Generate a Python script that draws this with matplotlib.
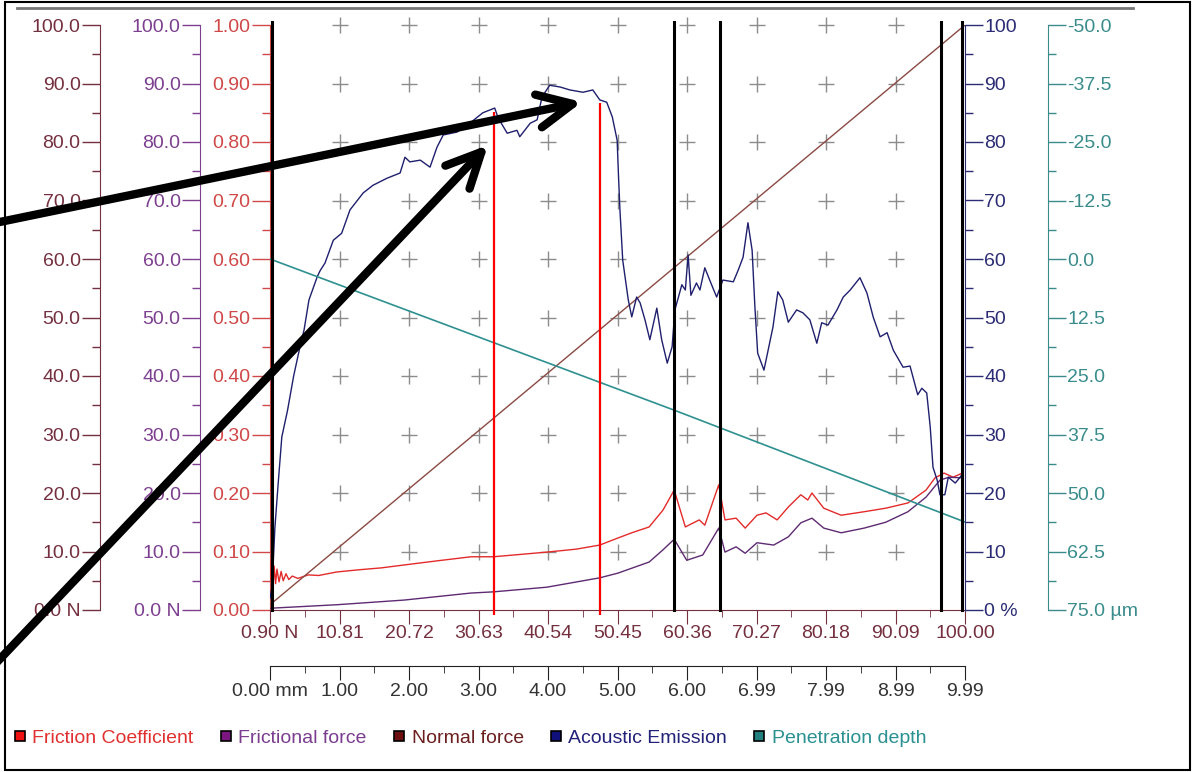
import matplotlib.pyplot as plt
import numpy as np
from matplotlib.lines import Line2D
from matplotlib.patches import FancyArrowPatch, Rectangle
from matplotlib.ticker import FixedLocator, FixedFormatter

plt.rcParams['font.family'] = ['Liberation Sans', 'DejaVu Sans']

# ---- data (x = scratch distance in mm) ----
force_labels = ['0.90 N', '10.81', '20.72', '30.63', '40.54', '50.45',
                '60.36', '70.27', '80.18', '90.09', '100.00']
dist_labels = ['0.00 mm', '1.00', '2.00', '3.00', '4.00', '5.00',
               '6.00', '6.99', '7.99', '8.99', '9.99']
dist_max = 9.99

ae_x = [0.00, 0.03, 0.07, 0.12, 0.17, 0.25, 0.34, 0.42, 0.49, 0.56, 0.68, 0.72,
        0.79, 0.91, 1.03, 1.15, 1.34, 1.48, 1.68, 1.87, 1.94, 2.01, 2.16, 2.30,
        2.40, 2.49, 2.69, 2.87, 3.06, 3.23, 3.28, 3.41, 3.55, 3.59, 3.74, 3.84,
        3.91, 4.02, 4.17, 4.31, 4.50, 4.64, 4.74, 4.84, 4.92, 4.99, 5.01, 5.03,
        5.07, 5.15, 5.20, 5.27, 5.32, 5.39, 5.46, 5.56, 5.63, 5.71, 5.78, 5.82,
        5.92, 5.97, 6.01, 6.05, 6.13, 6.18, 6.25, 6.32, 6.42, 6.51, 6.66, 6.73,
        6.80, 6.87, 6.93, 6.97, 7.01, 7.10, 7.16, 7.23, 7.30, 7.37, 7.45, 7.57,
        7.66, 7.76, 7.86, 7.93, 8.02, 8.15, 8.24, 8.34, 8.48, 8.58, 8.67, 8.77,
        8.87, 8.96, 9.10, 9.20, 9.31, 9.37, 9.44, 9.49, 9.53, 9.59, 9.63, 9.70,
        9.75, 9.85, 9.92, 9.96]
ae_y = [2.0, 4.0, 14.0, 22.0, 29.6, 34.0, 40.0, 44.4, 47.9, 53.0, 57.0, 58.0,
        59.3, 63.2, 64.4, 68.4, 71.3, 72.6, 73.8, 74.7, 77.4, 76.6, 76.9, 75.7,
        79.1, 81.2, 81.7, 83.2, 85.0, 85.8, 84.1, 81.5, 82.0, 80.9, 83.2, 83.8,
        87.7, 89.7, 89.4, 88.9, 88.5, 88.9, 87.2, 86.8, 84.3, 80.3, 74.0, 68.4,
        59.8, 53.0, 50.1, 53.5, 52.5, 49.6, 46.2, 51.6, 46.2, 42.2, 45.0, 51.3,
        55.6, 54.7, 60.7, 53.8, 55.9, 54.7, 58.5, 56.4, 53.5, 56.4, 56.1, 58.1,
        60.3, 66.2, 61.5, 51.8, 43.9, 41.0, 44.4, 48.4, 54.4, 53.0, 49.2, 51.3,
        50.8, 49.6, 45.6, 49.1, 48.7, 51.3, 53.5, 54.7, 56.8, 54.2, 50.1, 46.7,
        47.4, 44.4, 41.5, 41.7, 36.8, 37.9, 37.1, 31.3, 24.4, 22.2, 19.7, 19.7,
        22.7, 21.7, 22.7, 23.4]

fc_x = [0.00, 0.02, 0.04, 0.06, 0.08, 0.10, 0.13, 0.16, 0.19, 0.23, 0.27, 0.32,
        0.40, 0.55, 0.70, 0.96, 1.30, 1.60, 1.93, 2.40, 2.89, 3.21, 3.60, 3.98,
        4.40, 4.74, 5.00, 5.20, 5.45, 5.65, 5.81, 5.97, 6.17, 6.25, 6.45, 6.54,
        6.70, 6.83, 7.00, 7.13, 7.29, 7.45, 7.63, 7.73, 7.79, 7.96, 8.21, 8.54,
        8.85, 9.17, 9.43, 9.56, 9.69, 9.82, 9.95]
fc_y = [0.050, 0.085, 0.035, 0.075, 0.045, 0.070, 0.048, 0.066, 0.050, 0.062,
        0.052, 0.058, 0.054, 0.060, 0.059, 0.065, 0.069, 0.072, 0.077, 0.084,
        0.091, 0.091, 0.095, 0.099, 0.104, 0.111, 0.123, 0.132, 0.142, 0.171,
        0.205, 0.142, 0.154, 0.145, 0.214, 0.154, 0.157, 0.140, 0.162, 0.166,
        0.154, 0.176, 0.197, 0.188, 0.200, 0.174, 0.162, 0.168, 0.174, 0.183,
        0.205, 0.226, 0.234, 0.227, 0.234]

ff_x = [0.00, 0.96, 1.93, 2.89, 3.21, 3.98, 4.74, 5.00, 5.45, 5.65, 5.81, 5.99,
        6.22, 6.45, 6.54, 6.70, 6.83, 7.00, 7.24, 7.45, 7.63, 7.79, 7.96, 8.21,
        8.54, 8.85, 9.17, 9.43, 9.63, 9.76, 9.92]
ff_y = [0.3, 0.9, 1.7, 2.9, 3.1, 3.9, 5.5, 6.3, 8.2, 10.3, 12.1, 8.5,
        9.4, 14.0, 9.9, 10.8, 9.7, 11.5, 11.1, 12.5, 14.9, 15.7, 14.0, 13.2,
        14.0, 15.0, 16.8, 19.3, 22.2, 22.7, 22.6]

nf_x = [0.00, 9.99]
nf_y = [0.90, 100.00]

pd_x = [0.00, 5.81, 9.99]
pd_y = [0.0, 32.3, 56.2]

event_x = [0.03, 5.81, 6.47, 9.65, 9.95]      # black markers
crit_x = [3.22, 4.74]                         # red markers
crit_top = [0.851, 0.867]

# ---- colours ----
c_fc, c_ff, c_nf, c_ae, c_pd = '#e32b2b', '#5e2a72', '#8a4a42', '#1f1f6e', '#2f9090'
ax_col_fc, ax_col_ff, ax_col_nf = '#d04848', '#7d3f8f', '#74303f'
ax_col_ae, ax_col_pd = '#2c2c74', '#3a8c8c'

W, H = 1192, 772
fig = plt.figure(figsize=(W / 100, H / 100), dpi=100)
ax = fig.add_axes([270 / W, (H - 610) / H, 695 / W, 585 / H])

ticks = np.linspace(0, dist_max, 11)
mids = (ticks[:-1] + ticks[1:]) / 2
fs = 14


def style_y(a, side, pos, color, major, minor, labels, lo, hi):
    for s in ['top', 'bottom', 'left', 'right']:
        a.spines[s].set_visible(s == side)
    a.spines[side].set_position(('axes', pos))
    a.spines[side].set_color(color)
    if side == 'left':
        a.yaxis.tick_left()
    else:
        a.yaxis.tick_right()
    a.set_ylim(lo, hi)
    a.yaxis.set_major_locator(FixedLocator(major))
    a.yaxis.set_major_formatter(FixedFormatter(labels))
    a.yaxis.set_minor_locator(FixedLocator(minor))
    a.tick_params(axis='y', which='major', length=13, width=1, color=color,
                  labelcolor=color, labelsize=fs, pad=1)
    a.tick_params(axis='y', which='minor', length=6, width=1, color=color)


fc_major = np.round(np.arange(0, 1.01, 0.1), 2)
style_y(ax, 'left', 0.0, ax_col_fc, fc_major, fc_major[:-1] + 0.05,
        ['%.2f' % v for v in fc_major], 0, 1)
ax.spines['bottom'].set_visible(True)
ax.spines['bottom'].set_color(ax_col_nf)
ax.set_xlim(0, dist_max)
ax.set_xticks(ticks)
ax.set_xticklabels(force_labels)
ax.set_xticks(mids, minor=True)
ax.tick_params(axis='x', which='major', length=10, color=ax_col_nf,
               labelcolor=ax_col_nf, labelsize=fs, pad=1)
ax.tick_params(axis='x', which='minor', length=5, color=ax_col_nf)

# grid crosses
gx, gy = np.meshgrid(ticks[1:-1], fc_major[1:])
ax.plot(gx.ravel(), gy.ravel(), linestyle='none', marker='+', markersize=12,
        markeredgewidth=1, color='#8c8c8c', clip_on=False, zorder=1)
ax.plot(fc_x, fc_y, color=c_fc, lw=1.0, zorder=3)

n_major = np.arange(0, 101, 10)
ax_ff = ax.twinx()
style_y(ax_ff, 'left', -70 / 695, ax_col_ff, n_major, n_major[:-1] + 5,
        ['0.0 N'] + ['%.1f' % v for v in n_major[1:]], 0, 100)
ax_ff.plot(ff_x, ff_y, color=c_ff, lw=1.0)

ax_nf = ax.twinx()
style_y(ax_nf, 'left', -170 / 695, ax_col_nf, n_major, n_major[:-1] + 5,
        ['0.0 N'] + ['%.1f' % v for v in n_major[1:]], 0, 100)
ax_nf.plot(nf_x, nf_y, color=c_nf, lw=1.0)

ax_ae = ax.twinx()
style_y(ax_ae, 'right', 1.0, ax_col_ae, n_major, n_major[:-1] + 5,
        ['0 %'] + ['%d' % v for v in n_major[1:]], 0, 100)
ax_ae.plot(ae_x, ae_y, color=c_ae, lw=1.0)

pd_major = np.arange(-50, 75.1, 12.5)
ax_pd = ax.twinx()
style_y(ax_pd, 'right', (1048 - 270) / 695, ax_col_pd, pd_major, pd_major[:-1] + 6.25,
        ['%.1f' % v for v in pd_major[:-1]] + ['75.0 \u00b5m'], 75, -50)
ax_pd.plot(pd_x, pd_y, color=c_pd, lw=1.2)

# distance axis below
ax_mm = ax.twiny()
for s in ['top', 'left', 'right']:
    ax_mm.spines[s].set_visible(False)
ax_mm.spines['bottom'].set_position(('axes', -56 / 585))
ax_mm.spines['bottom'].set_color('#222222')
ax_mm.xaxis.set_ticks_position('bottom')
ax_mm.set_xlim(0, dist_max)
ax_mm.set_xticks(ticks)
ax_mm.set_xticklabels(dist_labels)
ax_mm.set_xticks(mids, minor=True)
ax_mm.tick_params(axis='x', which='major', length=10, color='#222222',
                  labelcolor='#333333', labelsize=fs, pad=2)
ax_mm.tick_params(axis='x', which='minor', length=5, color='#222222')

for x in event_x:
    ax_mm.axvline(x, ymin=0, ymax=1.005, color='black', lw=2.2, clip_on=False)
ax_mm.vlines(crit_x, -0.009, crit_top, color='#ff0000', lw=1.6, clip_on=False)

# legend
names = ['Friction Coefficient', 'Frictional force', 'Normal force',
         'Acoustic Emission', 'Penetration depth']
sq_cols = ['#ee1111', '#7b1580', '#6b0f0f', '#10107a', '#208080']
txt_cols = ['#e03030', '#7b3d8f', '#6b1f1f', '#22227a', '#2a9090']
handles = [Line2D([], [], linestyle='none', marker='s', markersize=7,
                  markerfacecolor=c, markeredgecolor='black', markeredgewidth=1.2)
           for c in sq_cols]
leg = fig.legend(handles, names, loc='center left', bbox_to_anchor=(14 / W, (H - 738) / H),
                 ncol=5, frameon=False, fontsize=fs, handlelength=0.6,
                 handletextpad=0.35, columnspacing=1.35, borderpad=0, borderaxespad=0)
for t, c in zip(leg.get_texts(), txt_cols):
    t.set_color(c)


def fxy(x, y):
    return (x / W, 1 - y / H)


# frame and top rule
fig.add_artist(Rectangle(fxy(5, 770), (1190 - 5) / W, (770 - 2) / H,
                         transform=fig.transFigure, fill=False, edgecolor='black', lw=1.5))
fig.add_artist(Line2D([17 / W, 1133 / W], [1 - 8 / H] * 2, transform=fig.transFigure,
                      color='#777777', lw=2))

# annotation arrows
for start, end in [((-10, 224), (582, 102)), ((-20, 680), (488, 145))]:
    fig.add_artist(FancyArrowPatch(fxy(*start), fxy(*end), transform=fig.transFigure,
                                   arrowstyle='->,head_length=1.25,head_width=0.6',
                                   mutation_scale=20, lw=6, color='black',
                                   shrinkA=0, shrinkB=0, zorder=10))

fig.savefig('out.png', dpi=100)
